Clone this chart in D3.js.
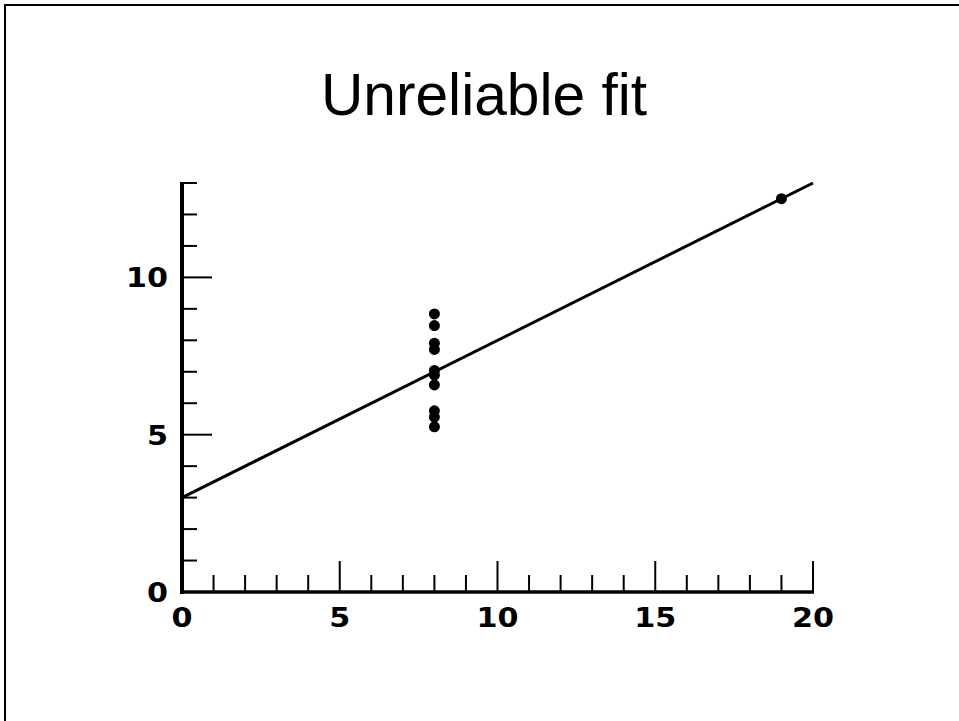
<!DOCTYPE html>
<html>
<head>
<meta charset="utf-8">
<script src="https://cdn.jsdelivr.net/npm/d3@7"></script>
<style>
  body { margin: 0; background: #fff; }
  svg { display: block; }
</style>
</head>
<body>
<div id="chart"></div>
<script>
// Anscombe set IV
const xValues = [8, 8, 8, 8, 8, 8, 8, 19, 8, 8, 8];
const yValues = [6.58, 5.76, 7.71, 8.84, 8.47, 7.04, 5.25, 12.5, 5.56, 7.91, 6.89];
const fitIntercept = 3;
const fitSlope = 0.5;
const xTicks = d3.range(0, 21);
const yTicks = d3.range(0, 14);
const xLabels = [0, 5, 10, 15, 20];
const yLabels = [0, 5, 10];
const title = 'Unreliable fit';

const width = 959;
const height = 721;

const svg = d3.select('#chart').append('svg')
  .attr('width', width)
  .attr('height', height);

// slide frame
svg.append('line')
  .attr('x1', 4).attr('x2', width).attr('y1', 5).attr('y2', 5)
  .attr('stroke', '#000').attr('stroke-width', 2);
svg.append('line')
  .attr('x1', 5).attr('x2', 5).attr('y1', 4).attr('y2', height)
  .attr('stroke', '#000').attr('stroke-width', 2);

svg.append('text')
  .attr('x', 484)
  .attr('y', 115)
  .attr('text-anchor', 'middle')
  .style('font-family', '"Liberation Sans", Arial, sans-serif')
  .style('font-size', '58.7px')
  .text(title);

const x = d3.scaleLinear().domain([0, 20]).range([182, 813]);
const y = d3.scaleLinear().domain([0, 13]).range([592, 183]);

const plot = svg.append('g');

// ticks (drawn inward, majors longer)
plot.selectAll('.xtick')
  .data(xTicks)
  .enter()
  .append('line')
  .attr('class', 'xtick')
  .attr('x1', (d) => x(d))
  .attr('x2', (d) => x(d))
  .attr('y1', y(0))
  .attr('y2', (d) => y(0) - (d % 5 === 0 ? 31 : 17))
  .attr('stroke', '#000')
  .attr('stroke-width', 2);

plot.selectAll('.ytick')
  .data(yTicks)
  .enter()
  .append('line')
  .attr('class', 'ytick')
  .attr('y1', (d) => y(d))
  .attr('y2', (d) => y(d))
  .attr('x1', x(0))
  .attr('x2', (d) => x(0) + (d % 5 === 0 ? 30 : 15))
  .attr('stroke', '#000')
  .attr('stroke-width', 2);

// axis lines
plot.append('line')
  .attr('x1', x(0)).attr('x2', x(0))
  .attr('y1', y(13) - 1).attr('y2', y(0) + 2)
  .attr('stroke', '#000').attr('stroke-width', 4);
plot.append('line')
  .attr('x1', x(0) - 2).attr('x2', x(20) + 1)
  .attr('y1', y(0)).attr('y2', y(0))
  .attr('stroke', '#000').attr('stroke-width', 3.5);

const labelFont = '"DejaVu Sans", sans-serif';

plot.selectAll('.xlabel')
  .data(xLabels)
  .enter()
  .append('text')
  .attr('class', 'xlabel')
  .attr('transform', (d) => `translate(${x(d)},627) scale(1.12,1)`)
  .attr('text-anchor', 'middle')
  .style('font-family', labelFont)
  .style('font-weight', 600)
  .style('font-size', '27px')
  .text((d) => d);

plot.selectAll('.ylabel')
  .data(yLabels)
  .enter()
  .append('text')
  .attr('class', 'ylabel')
  .attr('transform', (d) => `translate(168,${y(d) + 10}) scale(1.12,1)`)
  .attr('text-anchor', 'end')
  .style('font-family', labelFont)
  .style('font-weight', 600)
  .style('font-size', '27px')
  .text((d) => d);

// fitted line
plot.append('line')
  .attr('x1', x(0))
  .attr('y1', y(fitIntercept))
  .attr('x2', x(20))
  .attr('y2', y(fitIntercept + fitSlope * 20))
  .attr('stroke', '#000')
  .attr('stroke-width', 3);

plot.selectAll('circle')
  .data(xValues.map((d, i) => ({ x: d, y: yValues[i] })))
  .enter()
  .append('circle')
  .attr('cx', (d) => x(d.x))
  .attr('cy', (d) => y(d.y))
  .attr('r', 5.5)
  .attr('fill', '#000');
</script>
</body>
</html>
